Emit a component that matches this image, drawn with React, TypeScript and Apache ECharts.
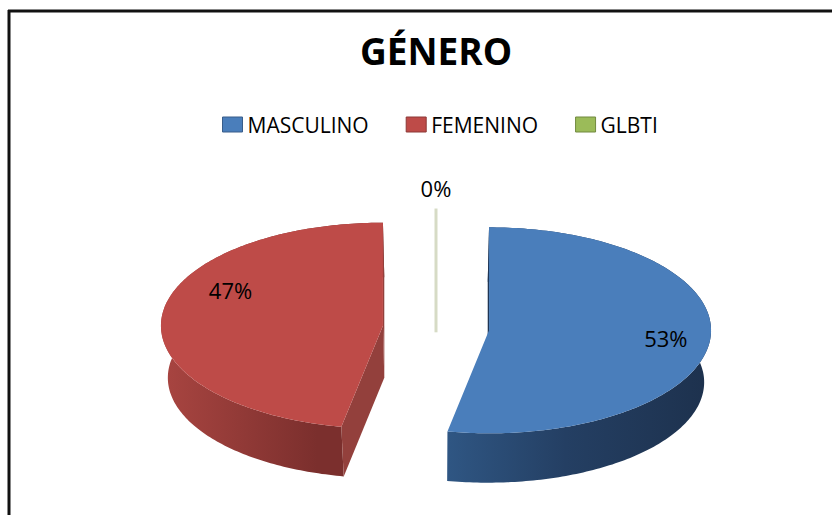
import React, { useEffect, useRef } from 'react';
import * as echarts from 'echarts';

// ---- data ----
const categories: string[] = ['MASCULINO', 'FEMENINO', 'GLBTI'];
const values: number[] = [53, 47, 0];

// ---- styles ----
const topColors = ['#4a7ebb', '#be4b48', '#9bbb59'];
const borderColors = ['#385d8a', '#8c3836', '#71893f'];
const sideStops: [number, string][][] = [
  [[0, '#2f5683'], [0.45, '#243f63'], [1, '#1d314d']],
  [[0, '#a94541'], [0.7, '#7b2f2d'], [1, '#7b2f2d']],
  [[0, '#d6dbc5'], [1, '#d6dbc5']],
];
const faceColors = ['#1f3554', '#93403c', '#d6dbc5'];
const explode = [0.24, 0.24, 0.16];
const labelRadius = [0.8, 0.77, 1.2];
const labelShift = [0, 21.5, 0];

const CX = 436, CY = 328, RX = 222, RY = 103, H = 52, K = 0.975;
const DEG = Math.PI / 180;
const FONT = '"Open Sans", "Noto Sans", sans-serif';

function makeRender(i: number) {
  return (params: any, api: any) => {
    const v = api.value(0) as number;
    const total = values.reduce((a, b) => a + b, 0);
    let acc = 0;
    for (let j = 0; j < i; j++) acc += values[j];
    const a0 = (acc / total) * 360;
    const a1 = ((acc + v) / total) * 360;
    const mid = (a0 + a1) / 2;
    const e = explode[i];
    const cx = CX + e * RX * Math.sin(mid * DEG);
    const cy = CY - e * RY * Math.cos(mid * DEG);
    const top = (t: number, r = 1): number[] => [cx + r * RX * Math.sin(t * DEG), cy - r * RY * Math.cos(t * DEG)];
    const bot = (p: number[]): number[] => [CX + (p[0] - CX) * K, CY + (p[1] - CY) * K + H];
    const children: any[] = [];
    const pct = Math.round((v / total) * 100) + '%';
    const la = mid + labelShift[i];
    const lp = top(la, labelRadius[i]);

    if (v === 0) {
      const rim = top(a0);
      const c = [cx, cy + 0.4 * H];
      children.push({
        type: 'line',
        shape: { x1: rim[0], y1: rim[1], x2: c[0], y2: c[1] },
        style: { stroke: faceColors[i], lineWidth: 3 },
      });
    } else {
      const arc: number[][] = [];
      const steps = Math.max(2, Math.ceil(a1 - a0));
      for (let s = 0; s <= steps; s++) arc.push(top(a0 + ((a1 - a0) * s) / steps));
      const band = arc.concat(arc.slice().reverse().map(bot));
      children.push({
        type: 'polygon',
        shape: { points: band },
        style: {
          fill: new echarts.graphic.LinearGradient(0, 0, 1, 0,
            sideStops[i].map(([o, c]) => ({ offset: o, color: c }))),
        },
      });
      const center = [cx, cy];
      const faces: [number, number][] = [[a0, a0 - 90], [a1, a1 + 90]];
      faces.forEach(([ang, n]) => {
        if (Math.cos(n * DEG) < 0.02) {
          const r = top(ang);
          children.push({
            type: 'polygon',
            shape: { points: [center, r, bot(r), bot(center)] },
            style: { fill: faceColors[i] },
          });
        }
      });
      children.push({
        type: 'polygon',
        shape: { points: [center].concat(arc) },
        style: { fill: topColors[i] },
      });
    }
    children.push({
      type: 'text',
      style: {
        text: pct,
        x: lp[0],
        y: lp[1],
        align: 'center',
        verticalAlign: 'middle',
        font: `22px ${FONT}`,
        fill: '#000',
      },
    });
    return { type: 'group', children };
  };
}

export default function App() {
  const ref = useRef<HTMLDivElement>(null);
  useEffect(() => {
    if (!ref.current) return;
    const chart = echarts.init(ref.current, undefined, { renderer: 'svg' });
    chart.setOption({
      animation: false,
      backgroundColor: '#ffffff',
      title: {
        text: 'GÉNERO',
        left: 436,
        top: 32,
        padding: 0,
        textAlign: 'center',
        textStyle: { fontFamily: FONT, fontWeight: 'bold', fontSize: 37, color: '#000' },
      },
      legend: {
        left: 222,
        top: 114,
        padding: 0,
        itemWidth: 20,
        itemHeight: 15,
        itemGap: 37,
        icon: 'rect',
        selectedMode: false,
        textStyle: { fontFamily: FONT, fontSize: 21, color: '#000' },
        data: categories.map((c, i) => ({
          name: c,
          itemStyle: { color: topColors[i], borderColor: borderColors[i], borderWidth: 1 },
        })),
      },
      graphic: [
        { type: 'line', shape: { x1: 9, y1: 10, x2: 9, y2: 515 }, style: { stroke: '#111', lineWidth: 3 } },
        { type: 'line', shape: { x1: 8, y1: 11, x2: 832, y2: 11 }, style: { stroke: '#111', lineWidth: 3 } },
      ],
      series: categories.map((c, i) => ({
        type: 'custom',
        name: c,
        coordinateSystem: 'none',
        itemStyle: { color: topColors[i] },
        data: [values[i]],
        renderItem: makeRender(i),
      })),
    });
    return () => chart.dispose();
  }, []);
  return <div ref={ref} style={{ position: 'fixed', left: 0, top: 0, width: 832, height: 515 }} />;
}
